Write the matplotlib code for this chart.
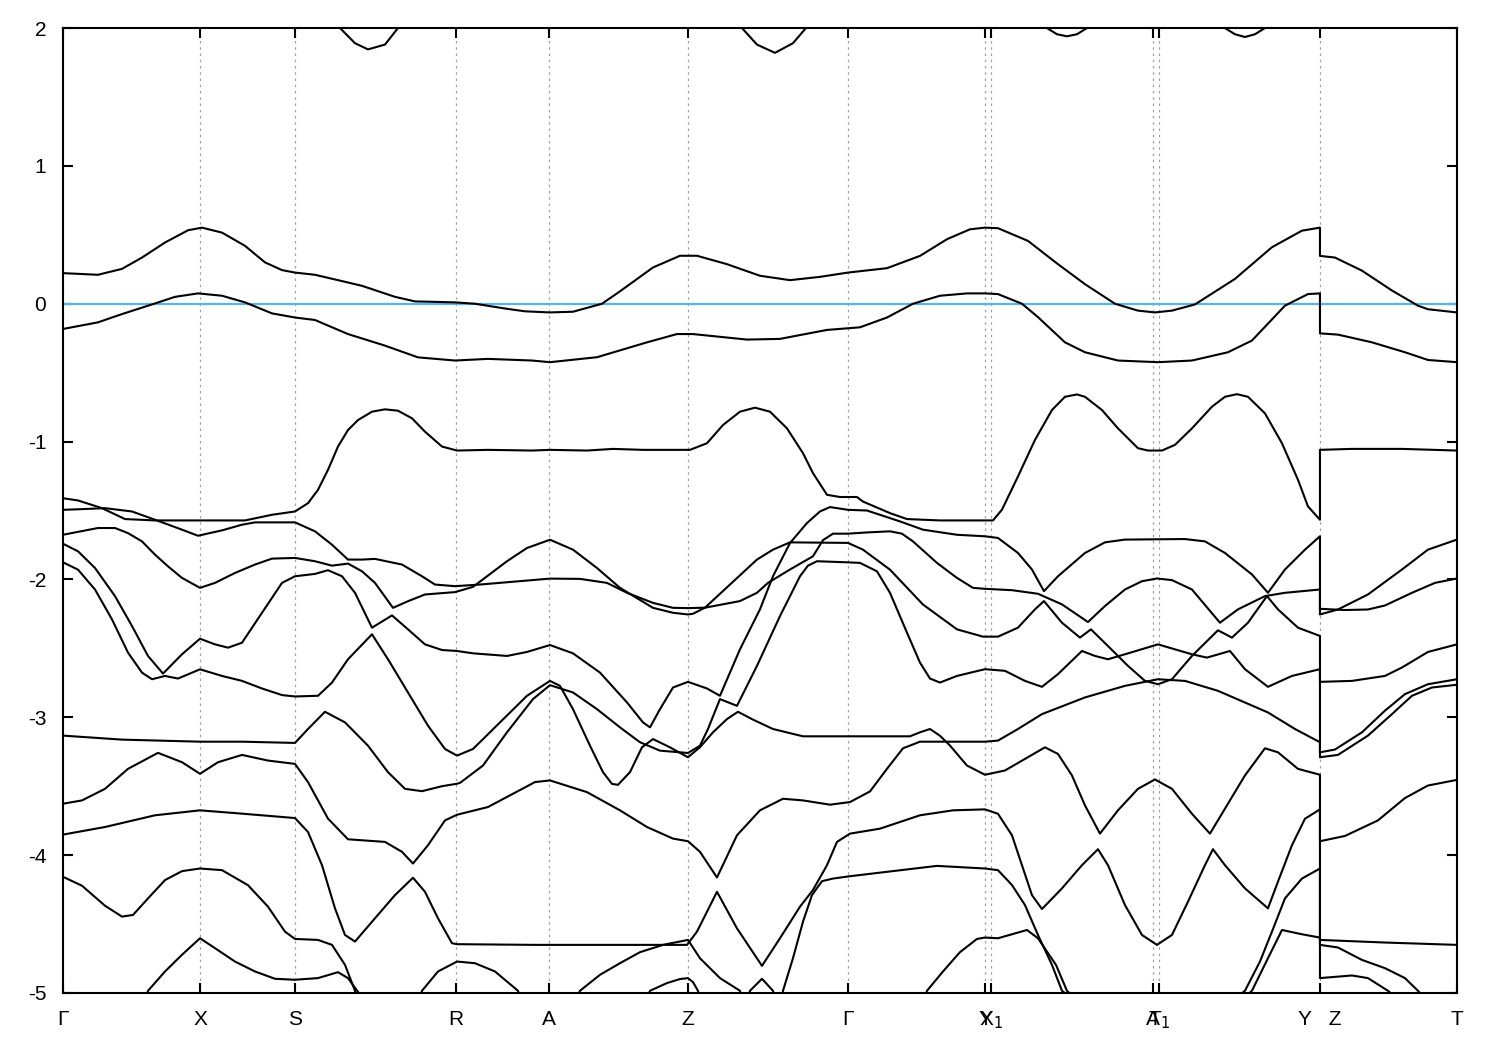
import matplotlib
matplotlib.use("Agg")
import matplotlib.pyplot as plt

plt.rcParams['font.family'] = ['Liberation Sans', 'DejaVu Sans']
plt.rcParams['axes.unicode_minus'] = False

# high symmetry points along the path
kpts = [0.0, 1.37, 2.32, 3.93, 4.86, 6.25, 7.85, 9.22, 9.28, 10.90, 10.96, 12.57, 13.94]
klabels = ['Γ', 'X', 'S', 'R', 'A', 'Z', 'Γ', 'Y', 'X$_1$', 'A', 'T$_1$', 'Y   Z', 'T']
efermi = 0.0

# bands (k, E in eV)
band_top1 = [(2.70, 2.06), (2.77, 2.0), (2.92, 1.89), (3.05, 1.845), (3.22, 1.88), (3.35, 2.0), (3.42, 2.06)]
band_top2 = [(6.72, 2.06), (6.79, 2.0), (6.94, 1.88), (7.12, 1.82), (7.30, 1.89), (7.43, 2.0), (7.50, 2.06)]
band_top3 = [(9.78, 2.04), (9.84, 2.0), (9.94, 1.955), (10.04, 1.94), (10.14, 1.955), (10.24, 2.0), (10.30, 2.04)]
band_top4 = [(11.56, 2.04), (11.62, 2.0), (11.72, 1.955), (11.82, 1.935), (11.92, 1.955), (12.02, 2.0), (12.08, 2.04)]

band_b = [(0.00, 0.222), (0.35, 0.210), (0.59, 0.253), (0.79, 0.335), (1.02, 0.444), (1.25, 0.533), (1.39, 0.552),
          (1.59, 0.516), (1.82, 0.420), (2.02, 0.300), (2.19, 0.244), (2.32, 0.226), (2.52, 0.210), (2.75, 0.171),
          (2.99, 0.130), (3.32, 0.050), (3.52, 0.017), (3.92, 0.010), (4.12, 0.000), (4.45, -0.038), (4.62, -0.055),
          (4.87, -0.063), (5.10, -0.058), (5.39, 0.000), (5.57, 0.090), (5.90, 0.263), (6.17, 0.348), (6.34, 0.348),
          (6.64, 0.287), (6.97, 0.203), (7.27, 0.171), (7.57, 0.195), (7.85, 0.226), (8.24, 0.258), (8.57, 0.347),
          (8.84, 0.468), (9.07, 0.540), (9.22, 0.552), (9.35, 0.548), (9.65, 0.456), (9.95, 0.287), (10.22, 0.142),
          (10.52, 0.000), (10.75, -0.050), (10.92, -0.063), (11.09, -0.050), (11.32, -0.005), (11.72, 0.180),
          (12.09, 0.410), (12.39, 0.530), (12.57, 0.552), (12.57, 0.347), (12.72, 0.335), (12.99, 0.240),
          (13.29, 0.096), (13.55, -0.014), (13.65, -0.040), (13.94, -0.063)]

band_c = [(0.00, -0.183), (0.35, -0.135), (0.59, -0.075), (0.92, 0.002), (1.12, 0.050), (1.35, 0.075), (1.59, 0.058),
          (1.82, 0.010), (2.09, -0.070), (2.32, -0.100), (2.52, -0.118), (2.85, -0.220), (3.22, -0.304), (3.55, -0.389),
          (3.92, -0.412), (4.25, -0.400), (4.69, -0.412), (4.87, -0.424), (5.34, -0.388), (5.84, -0.280), (6.14, -0.220),
          (6.30, -0.220), (6.84, -0.260), (7.17, -0.255), (7.64, -0.190), (7.97, -0.171), (8.24, -0.100), (8.50, 0.000),
          (8.77, 0.058), (9.04, 0.075), (9.22, 0.075), (9.35, 0.070), (9.59, 0.000), (9.75, -0.097), (10.02, -0.280),
          (10.22, -0.352), (10.55, -0.412), (10.95, -0.424), (11.29, -0.412), (11.65, -0.352), (11.89, -0.267),
          (12.22, -0.014), (12.45, 0.070), (12.57, 0.075), (12.57, -0.215), (12.75, -0.224), (13.09, -0.280),
          (13.42, -0.352), (13.65, -0.408), (13.94, -0.424)]

band_d = [(0.00, -1.411), (0.15, -1.427), (0.39, -1.483), (0.62, -1.562), (0.92, -1.572), (1.35, -1.572), (1.82, -1.572),
          (2.09, -1.531), (2.32, -1.507), (2.45, -1.447), (2.55, -1.350), (2.65, -1.205), (2.75, -1.036), (2.85, -0.916),
          (2.95, -0.844), (3.09, -0.783), (3.22, -0.766), (3.35, -0.776), (3.49, -0.831), (3.62, -0.928), (3.79, -1.036),
          (3.94, -1.065), (4.25, -1.060), (4.69, -1.065), (4.87, -1.060), (5.24, -1.065), (5.50, -1.053), (5.80, -1.060),
          (6.27, -1.060), (6.44, -1.012), (6.60, -0.880), (6.77, -0.783), (6.92, -0.754), (7.07, -0.783), (7.24, -0.904),
          (7.40, -1.084), (7.50, -1.229), (7.64, -1.386), (7.77, -1.402), (7.94, -1.402), (8.00, -1.435), (8.27, -1.519),
          (8.44, -1.562), (8.77, -1.572), (9.30, -1.572), (9.39, -1.494), (9.55, -1.253), (9.72, -0.988), (9.89, -0.771),
          (10.02, -0.675), (10.14, -0.658), (10.22, -0.675), (10.39, -0.771), (10.55, -0.904), (10.75, -1.048),
          (10.85, -1.065), (10.99, -1.065), (11.12, -1.024), (11.29, -0.904), (11.49, -0.747), (11.62, -0.675),
          (11.74, -0.656), (11.85, -0.675), (12.02, -0.795), (12.19, -1.012), (12.35, -1.277), (12.45, -1.470),
          (12.57, -1.567), (12.57, -1.060), (12.89, -1.053), (13.39, -1.053), (13.94, -1.065)]

band_2 = [(0.00, -1.495), (0.19, -1.490), (0.42, -1.483), (0.69, -1.507), (0.92, -1.567), (1.19, -1.639), (1.35, -1.683),
          (1.59, -1.644), (1.79, -1.603), (1.92, -1.586), (2.32, -1.586), (2.52, -1.651), (2.69, -1.748), (2.85, -1.856),
          (2.99, -1.856), (3.12, -1.851), (3.39, -1.892), (3.59, -1.977), (3.72, -2.037), (3.92, -2.049), (4.17, -2.037),
          (4.87, -1.994), (5.17, -1.996), (5.44, -2.025), (5.64, -2.097), (5.90, -2.170), (6.10, -2.206), (6.25, -2.208),
          (6.42, -2.205), (6.67, -2.037), (6.94, -1.856), (7.10, -1.784), (7.27, -1.731), (7.85, -1.735),
          (8.00, -1.784), (8.27, -1.929), (8.60, -2.182), (8.94, -2.362), (9.20, -2.415), (9.35, -2.415), (9.55, -2.350),
          (9.72, -2.217), (9.81, -2.157), (9.99, -2.314), (10.17, -2.422), (10.28, -2.362), (10.45, -2.483),
          (10.65, -2.627), (10.82, -2.736), (10.95, -2.760), (11.09, -2.724), (11.29, -2.555), (11.55, -2.369),
          (11.69, -2.422), (11.85, -2.314), (12.04, -2.121), (12.15, -2.217), (12.35, -2.350), (12.57, -2.410),
          (12.57, -2.743), (12.89, -2.736), (13.22, -2.700), (13.39, -2.639), (13.65, -2.526), (13.94, -2.471)]

band_3 = [(0.00, -1.676), (0.12, -1.659), (0.35, -1.627), (0.52, -1.627), (0.65, -1.664), (0.79, -1.724), (0.92, -1.820),
          (1.05, -1.905), (1.19, -1.989), (1.37, -2.061), (1.52, -2.025), (1.72, -1.953), (1.92, -1.892), (2.09, -1.849),
          (2.32, -1.844), (2.52, -1.868), (2.69, -1.900), (2.85, -1.885), (2.99, -1.941), (3.12, -2.025), (3.30, -2.206),
          (3.45, -2.158), (3.62, -2.109), (3.92, -2.092), (4.10, -2.054), (4.44, -1.868), (4.64, -1.772), (4.87, -1.712),
          (5.10, -1.784), (5.34, -1.917), (5.57, -2.061), (5.90, -2.206), (6.10, -2.242), (6.25, -2.254), (6.30, -2.249),
          (6.42, -2.205), (6.77, -2.157), (6.94, -2.097), (7.05, -2.025), (7.27, -1.928), (7.50, -1.832), (7.60, -1.715),
          (7.70, -1.668), (7.85, -1.668), (8.04, -1.659), (8.27, -1.651), (8.39, -1.668), (8.50, -1.724), (8.74, -1.880),
          (8.94, -1.989), (9.10, -2.061), (9.22, -2.068), (9.49, -2.078), (9.75, -2.104), (9.99, -2.181), (10.25, -2.309),
          (10.42, -2.193), (10.62, -2.073), (10.79, -2.013), (10.94, -1.993), (11.09, -2.005), (11.29, -2.073),
          (11.57, -2.314), (11.75, -2.217), (12.02, -2.121), (12.22, -2.097), (12.57, -2.073), (12.57, -2.254),
          (12.75, -2.218), (13.05, -2.109), (13.39, -1.928), (13.65, -1.784), (13.94, -1.711)]

band_4 = [(0.00, -1.741), (0.15, -1.796), (0.32, -1.917), (0.52, -2.121), (0.69, -2.338), (0.85, -2.555), (1.00, -2.683),
          (1.19, -2.543), (1.37, -2.430), (1.52, -2.471), (1.65, -2.495), (1.79, -2.459), (1.99, -2.242), (2.19, -2.025),
          (2.32, -1.977), (2.52, -1.960), (2.65, -1.933), (2.79, -1.977), (2.92, -2.097), (3.09, -2.350), (3.29, -2.261),
          (3.45, -2.362), (3.62, -2.471), (3.79, -2.512), (3.94, -2.519), (4.10, -2.536), (4.44, -2.555), (4.64, -2.526),
          (4.87, -2.476), (5.10, -2.536), (5.37, -2.676), (5.64, -2.892), (5.80, -3.037), (5.87, -3.073), (5.97, -2.941),
          (6.10, -2.784), (6.25, -2.743), (6.44, -2.791), (6.57, -2.844), (6.77, -2.507), (6.97, -2.217), (7.10, -1.977),
          (7.27, -1.736), (7.44, -1.591), (7.57, -1.507), (7.67, -1.475), (7.85, -1.495), (8.04, -1.500), (8.37, -1.579),
          (8.60, -1.639), (8.94, -1.676), (9.22, -1.687), (9.35, -1.699), (9.55, -1.808), (9.69, -1.928), (9.81, -2.085),
          (9.95, -1.977), (10.22, -1.808), (10.42, -1.731), (10.62, -1.711), (11.22, -1.707), (11.42, -1.724),
          (11.62, -1.808), (11.89, -1.964), (12.05, -2.097), (12.22, -1.928), (12.42, -1.784), (12.57, -1.687),
          (12.57, -2.213), (12.82, -2.222), (13.05, -2.218), (13.22, -2.189), (13.49, -2.097), (13.72, -2.025),
          (13.94, -1.993)]

band_5 = [(0.00, -1.876), (0.15, -1.929), (0.32, -2.073), (0.49, -2.290), (0.65, -2.531), (0.79, -2.676), (0.89, -2.724),
          (1.02, -2.700), (1.15, -2.719), (1.37, -2.652), (1.59, -2.700), (1.79, -2.736), (1.99, -2.791), (2.19, -2.839),
          (2.32, -2.849), (2.55, -2.844), (2.69, -2.748), (2.85, -2.579), (3.09, -2.398), (3.25, -2.579), (3.45, -2.820),
          (3.65, -3.061), (3.82, -3.230), (3.94, -3.278), (4.10, -3.230), (4.37, -3.037), (4.64, -2.844), (4.87, -2.736),
          (4.97, -2.772), (5.10, -2.941), (5.27, -3.206), (5.40, -3.398), (5.49, -3.483), (5.55, -3.490), (5.67, -3.398),
          (5.79, -3.218), (5.90, -3.158), (6.07, -3.218), (6.25, -3.290), (6.37, -3.217), (6.50, -3.109), (6.64, -3.013),
          (6.75, -2.960), (6.90, -3.017), (7.10, -3.085), (7.40, -3.138), (7.90, -3.138), (8.17, -3.138), (8.47, -3.138),
          (8.57, -3.109), (8.67, -3.085), (8.77, -3.134), (8.87, -3.205), (9.04, -3.350), (9.22, -3.417), (9.42, -3.386),
          (9.62, -3.302), (9.82, -3.218), (9.95, -3.266), (10.09, -3.422), (10.22, -3.639), (10.37, -3.844),
          (10.55, -3.675), (10.75, -3.519), (10.92, -3.451), (11.09, -3.519), (11.29, -3.700), (11.47, -3.844),
          (11.62, -3.663), (11.82, -3.422), (12.02, -3.225), (12.15, -3.254), (12.35, -3.374), (12.57, -3.417),
          (12.57, -3.899), (12.82, -3.861), (13.15, -3.748), (13.42, -3.586), (13.65, -3.495), (13.94, -3.454)]

band_6 = [(0.00, -3.133), (0.59, -3.162), (1.37, -3.177), (1.79, -3.177), (2.32, -3.186), (2.45, -3.085), (2.62, -2.960),
          (2.82, -3.037), (3.05, -3.206), (3.25, -3.398), (3.42, -3.519), (3.59, -3.536), (3.79, -3.500), (3.94, -3.482),
          (3.97, -3.476), (4.20, -3.350), (4.44, -3.109), (4.70, -2.868), (4.87, -2.767), (5.10, -2.820), (5.34, -2.941),
          (5.57, -3.073), (5.77, -3.181), (5.97, -3.242), (6.25, -3.259), (6.37, -3.206), (6.45, -3.085), (6.57, -2.868),
          (6.74, -2.917), (6.94, -2.627), (7.17, -2.266), (7.37, -1.977), (7.45, -1.900), (7.54, -1.868), (7.85, -1.876),
          (7.97, -1.880), (8.14, -1.941), (8.27, -2.097), (8.44, -2.386), (8.57, -2.603),
          (8.67, -2.719), (8.77, -2.748), (8.94, -2.700), (9.22, -2.651), (9.42, -2.663), (9.62, -2.736), (9.79, -2.779),
          (9.95, -2.687), (10.19, -2.519), (10.32, -2.555), (10.45, -2.579), (10.62, -2.543), (10.95, -2.471),
          (11.29, -2.543), (11.44, -2.567), (11.67, -2.519), (11.82, -2.651), (12.05, -2.779), (12.29, -2.700),
          (12.57, -2.651), (12.57, -3.254), (12.72, -3.234), (12.99, -3.109), (13.22, -2.952), (13.42, -2.832),
          (13.65, -2.760), (13.94, -2.724)]

band_7 = [(0.00, -3.627), (0.19, -3.603), (0.42, -3.519), (0.65, -3.374), (0.95, -3.258), (1.19, -3.326), (1.37, -3.410),
          (1.55, -3.326), (1.79, -3.273), (2.05, -3.314), (2.32, -3.338), (2.45, -3.470), (2.65, -3.735), (2.85, -3.885),
          (3.22, -3.904), (3.39, -3.976), (3.50, -4.061), (3.65, -3.928), (3.82, -3.748), (3.94, -3.707), (4.25, -3.651),
          (4.72, -3.470), (4.87, -3.458), (5.24, -3.543), (5.57, -3.675), (5.84, -3.796), (6.10, -3.880), (6.25, -3.899),
          (6.37, -3.976), (6.54, -4.162), (6.74, -3.856), (6.97, -3.675), (7.20, -3.591), (7.40, -3.603), (7.67, -3.634),
          (7.87, -3.615), (8.07, -3.538), (8.24, -3.374), (8.40, -3.225), (8.57, -3.177), (8.90, -3.177), (9.22, -3.177),
          (9.35, -3.169), (9.55, -3.085), (9.79, -2.977), (10.22, -2.856), (10.62, -2.772), (10.95, -2.724),
          (11.22, -2.736), (11.55, -2.808), (12.05, -2.965), (12.32, -3.085), (12.57, -3.181), (12.57, -3.290),
          (12.75, -3.273), (13.05, -3.133), (13.29, -2.977), (13.49, -2.844), (13.69, -2.784), (13.94, -2.764)]

band_8 = [(0.00, -3.851), (0.42, -3.796), (0.92, -3.711), (1.37, -3.675), (1.79, -3.699), (2.32, -3.731), (2.45, -3.832),
          (2.59, -4.073), (2.72, -4.386), (2.82, -4.579), (2.92, -4.627), (3.12, -4.458), (3.32, -4.290), (3.50, -4.164),
          (3.62, -4.266), (3.75, -4.458), (3.89, -4.639), (3.94, -4.646), (4.72, -4.651), (6.24, -4.651), (6.34, -4.555),
          (6.54, -4.266), (6.74, -4.531), (6.99, -4.803), (7.17, -4.603), (7.37, -4.374), (7.50, -4.253), (7.64, -4.073),
          (7.74, -3.904), (7.87, -3.844), (8.17, -3.808), (8.57, -3.711), (8.90, -3.675), (9.22, -3.668), (9.35, -3.700),
          (9.49, -3.856), (9.59, -4.073), (9.69, -4.290), (9.79, -4.391), (9.99, -4.241), (10.19, -4.073),
          (10.35, -3.957), (10.45, -4.073), (10.62, -4.362), (10.79, -4.579), (10.94, -4.651), (11.09, -4.579),
          (11.25, -4.338), (11.42, -4.073), (11.50, -3.957), (11.62, -4.073), (11.82, -4.241), (12.05, -4.386),
          (12.15, -4.193), (12.29, -3.928), (12.42, -3.736), (12.57, -3.668), (12.57, -4.615), (13.22, -4.634),
          (13.94, -4.651)]

band_9 = [(0.00, -4.157), (0.19, -4.222), (0.42, -4.367), (0.59, -4.446), (0.70, -4.434), (0.85, -4.314), (1.02, -4.181),
          (1.19, -4.116), (1.37, -4.097), (1.59, -4.109), (1.85, -4.218), (2.05, -4.374), (2.22, -4.555), (2.32, -4.608),
          (2.55, -4.615), (2.69, -4.651), (2.82, -4.796), (2.92, -4.984), (3.02, -5.300)]

band_10 = [(0.70, -5.300), (0.85, -4.984), (1.02, -4.844), (1.19, -4.723), (1.37, -4.603), (1.52, -4.675), (1.72, -4.772),
           (1.92, -4.844), (2.12, -4.897), (2.32, -4.904), (2.55, -4.892), (2.75, -4.849), (2.85, -4.892), (2.97, -5.012),
           (3.05, -5.300)]

band_11 = [(3.45, -5.300), (3.59, -4.984), (3.75, -4.844), (3.94, -4.772), (4.12, -4.784), (4.32, -4.844), (4.55, -4.984),
           (4.70, -5.300)]

band_12 = [(5.00, -5.300), (5.17, -4.984), (5.37, -4.868), (5.57, -4.784), (5.77, -4.704), (6.00, -4.651), (6.25, -4.615),
           (6.37, -4.748), (6.57, -4.892), (6.77, -4.984), (6.90, -5.300)]

band_13 = [(5.70, -5.300), (5.87, -4.984), (6.04, -4.928), (6.17, -4.899), (6.25, -4.892), (6.30, -4.921), (6.35, -4.984),
           (6.45, -5.300)]

band_14 = [(6.75, -5.300), (6.87, -4.984), (6.99, -4.897), (7.10, -4.984), (7.20, -5.300)]

band_15 = [(7.15, -5.300), (7.20, -4.984), (7.30, -4.748), (7.40, -4.483), (7.49, -4.290), (7.59, -4.189), (7.70, -4.170),
           (7.87, -4.153), (8.24, -4.121), (8.74, -4.078), (9.22, -4.097), (9.35, -4.109), (9.49, -4.217), (9.62, -4.362),
           (9.75, -4.579), (9.89, -4.796), (9.99, -4.984), (10.93, -5.500), (11.82, -4.984), (11.97, -4.772),
           (12.09, -4.555), (12.22, -4.314), (12.39, -4.170), (12.57, -4.097), (12.57, -4.651), (12.75, -4.670),
           (12.99, -4.760), (13.22, -4.820), (13.42, -4.892), (13.55, -4.984), (13.94, -5.300)]

band_16 = [(8.50, -5.300), (8.64, -4.984), (8.80, -4.844), (8.97, -4.704), (9.14, -4.608), (9.22, -4.598), (9.35, -4.603),
           (9.64, -4.543), (9.75, -4.603), (9.93, -4.796), (10.04, -4.984), (10.93, -5.600), (11.89, -4.984),
           (12.05, -4.748), (12.19, -4.543), (12.39, -4.574), (12.57, -4.598), (12.57, -4.892), (12.89, -4.873),
           (13.05, -4.892), (13.25, -4.984), (13.77, -5.300)]

bands = [band_top1, band_top2, band_top3, band_top4, band_b, band_c, band_d, band_2, band_3, band_4,
         band_5, band_6, band_7, band_8, band_9, band_10, band_11, band_12, band_13, band_14, band_15, band_16]

fig = plt.figure(figsize=(15, 10.5), dpi=100)
ax = fig.add_axes([0.042, 0.0543, 0.9293, 0.919])

for kk in kpts[1:-1]:
    ax.axvline(kk, color='#a0a0a0', lw=0.9, ls=(0, (2, 3)), zorder=1)

for b in bands:
    k = [p[0] for p in b]
    e = [p[1] for p in b]
    ax.plot(k, e, color='black', lw=1.5, zorder=3)

ax.axhline(efermi, color='#56B4E9', lw=1.6, zorder=2)

ax.set_xlim(kpts[0], kpts[-1])
ax.set_ylim(-5, 2)
ax.set_xticks(kpts)
ax.set_xticklabels(klabels)
ax.set_yticks(range(-5, 3))
ax.tick_params(axis='both', direction='in', length=7, width=1.5, labelsize=15,
               top=True, right=True, pad=12)
for s in ax.spines.values():
    s.set_linewidth(1.5)

fig.savefig('out.png', dpi=100)
